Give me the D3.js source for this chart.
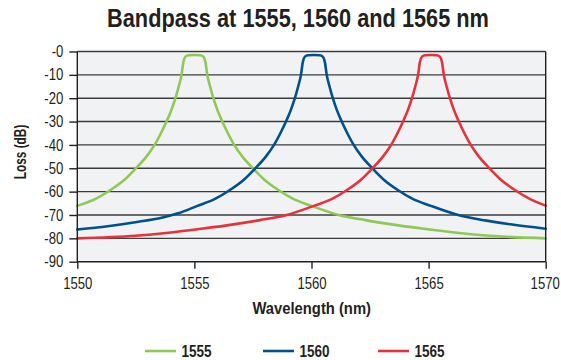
<!DOCTYPE html>
<html><head><meta charset="utf-8">
<script src="https://cdn.jsdelivr.net/npm/d3@7"></script>
<style>
html,body{margin:0;padding:0;background:#fff;}
text{font-family:"Liberation Sans",Arial,sans-serif;fill:#231f20;}
</style></head>
<body><svg id="c" width="561" height="360"></svg>
<script>
const seriesNames = ["1555", "1560", "1565"];
const seriesColors = ["#8dc954", "#00508e", "#e6323c"];
const xTicks = [1550, 1555, 1560, 1565, 1570];
const yTicks = [0, -10, -20, -30, -40, -50, -60, -70, -80, -90];

const wl1555 = [1550,1550.8,1551.4,1552.0,1552.5,1552.95,1553.3,1553.57,1553.81,1554.02,1554.19,1554.33,1554.45,1554.53,1554.62,1554.75,1555.0,1555.25,1555.38,1555.47,1555.55,1555.67,1555.81,1555.98,1556.19,1556.43,1556.7,1557.05,1557.5,1558.0,1558.6,1559.2,1560.0,1561.2,1562.3,1563.35,1564.8,1566.2,1567.6,1570];
const loss1555 = [-66.1,-63,-59.4,-55,-50,-45,-40,-35,-30,-25,-20,-15,-10,-4.5,-2.2,-1.6,-1.5,-1.6,-2.2,-4.5,-10,-15,-20,-25,-30,-35,-40,-45,-50,-55,-59.4,-63,-66.1,-70.1,-72.2,-73.9,-75.9,-77.6,-78.9,-80];

const wl1560 = [1550,1551.3,1552.55,1553.6,1554.3,1555.1,1555.9,1556.5,1557.1,1557.6,1558.05,1558.4,1558.67,1558.91,1559.12,1559.29,1559.43,1559.55,1559.63,1559.72,1559.85,1560.1,1560.35,1560.48,1560.57,1560.65,1560.77,1560.91,1561.08,1561.29,1561.53,1561.8,1562.15,1562.6,1563.1,1563.7,1564.3,1565.1,1566.3,1567.4,1568.5,1570];
const loss1560 = [-76.2,-74.8,-73,-71.2,-69.3,-66.2,-63,-59.4,-55,-50,-45,-40,-35,-30,-25,-20,-15,-10,-4.5,-2.2,-1.6,-1.5,-1.6,-2.2,-4.5,-10,-15,-20,-25,-30,-35,-40,-45,-50,-55,-59.4,-63,-66.1,-70.1,-72.3,-74,-75.9];

const wl1565 = [1550,1552.5,1553.9,1555.3,1556.75,1557.8,1558.9,1560.1,1560.9,1561.5,1562.1,1562.6,1563.05,1563.4,1563.67,1563.91,1564.12,1564.29,1564.43,1564.55,1564.63,1564.72,1564.85,1565.1,1565.35,1565.48,1565.57,1565.65,1565.77,1565.91,1566.08,1566.29,1566.53,1566.8,1567.15,1567.6,1568.1,1568.7,1569.3,1570];
const loss1565 = [-80,-78.9,-77.6,-75.9,-73.9,-72.2,-70.1,-66.1,-63,-59.4,-55,-50,-45,-40,-35,-30,-25,-20,-15,-10,-4.5,-2.2,-1.6,-1.5,-1.6,-2.2,-4.5,-10,-15,-20,-25,-30,-35,-40,-45,-50,-55,-59.4,-63,-66];

const series = [
  {name: seriesNames[0], color: seriesColors[0], x: wl1555, y: loss1555},
  {name: seriesNames[1], color: seriesColors[1], x: wl1560, y: loss1560},
  {name: seriesNames[2], color: seriesColors[2], x: wl1565, y: loss1565}
];

const K = 0.82; // horizontal condensing (narrow face not installed)
const svg = d3.select("#c");
const L = 77.3, R = 545.7, T = 51.5, B = 261.7;
const x = d3.scaleLinear().domain([1550, 1570]).range([L, R]);
const y = d3.scaleLinear().domain([0, -90]).range([T, B]);

svg.append("rect").attr("x", L).attr("y", T).attr("width", R - L).attr("height", B - T).attr("fill", "#f1f2f4");

// gridlines
svg.append("g").selectAll("line").data(yTicks.filter(d => d !== -90)).join("line")
  .attr("x1", L).attr("x2", R).attr("y1", d => y(d)).attr("y2", d => y(d))
  .attr("stroke", "#3c3c3c").attr("stroke-width", 1.4);

// curves
const line = d3.line().x(d => x(d[0])).y(d => y(d[1])).curve(d3.curveMonotoneX);
svg.append("g").selectAll("path").data(series).join("path")
  .attr("d", s => line(s.x.map((v, i) => [v, s.y[i]])))
  .attr("fill", "none").attr("stroke", s => s.color).attr("stroke-width", 2.6)
  .attr("stroke-linejoin", "round").attr("stroke-linecap", "round");

// right border
svg.append("line").attr("x1", R).attr("x2", R).attr("y1", T).attr("y2", B)
  .attr("stroke", "#231f20").attr("stroke-width", 1.4);

// axes
const yAxis = d3.axisLeft(y).tickValues(yTicks).tickSize(8).tickPadding(6)
  .tickFormat(d => d === 0 ? "-0" : String(d));
const gy = svg.append("g").attr("transform", `translate(${L},0)`).call(yAxis);
gy.attr("font-family", null).attr("font-size", null);
gy.select(".domain").attr("stroke", "#231f20").attr("stroke-width", 1.4).attr("d", `M0,${T}V${B}`);
gy.selectAll(".tick line").attr("stroke", "#231f20").attr("stroke-width", 1.4);
gy.selectAll(".tick text").attr("font-size", 16).attr("fill", "#231f20")
  .attr("x", -14 / K).attr("transform", `scale(${K},1)`);

const xAxis = d3.axisBottom(x).tickValues(xTicks).tickSize(7).tickPadding(9).tickFormat(d3.format("d"));
const gx = svg.append("g").attr("transform", `translate(0,${B})`).call(xAxis);
gx.attr("font-family", null).attr("font-size", null);
gx.select(".domain").attr("stroke", "#231f20").attr("stroke-width", 1.6).attr("d", `M${L},0H${R}`);
gx.selectAll(".tick line").attr("stroke", "#231f20").attr("stroke-width", 1.4);
gx.selectAll(".tick text").attr("font-size", 16).attr("fill", "#231f20")
  .attr("x", d => d === 1570 ? -1 / K : 0).attr("transform", `scale(${K},1)`);

// title
svg.append("text").attr("transform", `translate(298,27) scale(0.87,1)`).attr("text-anchor", "middle")
  .attr("font-size", 25).attr("font-weight", "bold")
  .text("Bandpass at 1555, 1560 and 1565 nm");

svg.append("text").attr("transform", `translate(311.7,314) scale(0.87,1)`).attr("text-anchor", "middle")
  .attr("font-size", 17).attr("font-weight", "bold")
  .text("Wavelength (nm)");

svg.append("text").attr("transform", "translate(25.5,152) rotate(-90) scale(0.72,1)").attr("text-anchor", "middle")
  .attr("font-size", 16.5).attr("font-weight", "bold")
  .text("Loss (dB)");

// legend
const legX = [145, 263, 378];
const leg = svg.append("g").selectAll("g").data(series).join("g")
  .attr("transform", (s, i) => `translate(${legX[i]},351)`);
leg.append("line").attr("x1", 0).attr("x2", 31).attr("y1", 0).attr("y2", 0)
  .attr("stroke", s => s.color).attr("stroke-width", 2.6);
leg.append("text").attr("transform", `translate(36.5,6) scale(${K},1)`)
  .attr("font-size", 16.5).attr("font-weight", "bold").text(s => s.name);
</script></body></html>
